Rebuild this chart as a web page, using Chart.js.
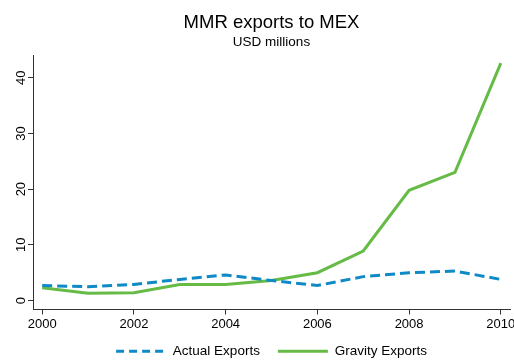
<!DOCTYPE html>
<html lang="en">
<head>
    <meta charset="UTF-8">
    <title>MMR exports to MEX</title>
    <script src="https://cdn.jsdelivr.net/npm/chart.js"></script>
    <style>
        html, body { margin: 0; padding: 0; background: #fff; }
        #wrap { position: relative; width: 514px; height: 360px; }
    </style>
</head>
<body>
    <div id="wrap"><canvas id="chart"></canvas></div>

    <script>
        const years = [2000, 2001, 2002, 2003, 2004, 2005, 2006, 2007, 2008, 2009, 2010];
        const actualExports = [2.7, 2.5, 2.9, 3.8, 4.6, 3.6, 2.7, 4.3, 5.0, 5.3, 3.8];
        const gravityExports = [2.3, 1.3, 1.4, 2.9, 2.9, 3.6, 5.0, 8.9, 19.8, 23.0, 42.6];
        const xTicks = [2000, 2002, 2004, 2006, 2008, 2010];
        const yTicks = [0, 10, 20, 30, 40];

        const font = "'Liberation Sans', Arial, sans-serif";
        const axisColor = '#333333';

        // y tick labels are drawn rotated (reading upwards), positioned by the y scale
        const rotatedYLabels = {
            id: 'rotatedYLabels',
            afterLayout(chart) {
                // x labels are clipped to the scale box; let them run into the legend band
                chart.scales.x.bottom = chart.height;
            },
            afterDraw(chart) {
                const { ctx, scales: { y } } = chart;
                ctx.save();
                ctx.fillStyle = '#000';
                ctx.font = '13px ' + font;
                ctx.textAlign = 'center';
                ctx.textBaseline = 'middle';
                yTicks.forEach(v => {
                    const py = y.getPixelForValue(v);
                    ctx.save();
                    ctx.translate(y.right - 12, py);
                    ctx.rotate(-Math.PI / 2);
                    ctx.fillText(String(v), 0, 0);
                    ctx.restore();
                });
                ctx.restore();
            }
        };

        new Chart(document.getElementById('chart'), {
            type: 'line',
            data: {
                datasets: [
                    {
                        label: 'Actual Exports',
                        data: years.map((y, i) => ({ x: y, y: actualExports[i] })),
                        borderColor: '#0f8ac6',
                        borderWidth: 3,
                        borderDash: [10, 5],
                        pointRadius: 0,
                        fill: false,
                        tension: 0
                    },
                    {
                        label: 'Gravity Exports',
                        data: years.map((y, i) => ({ x: y, y: gravityExports[i] })),
                        borderColor: '#66bb47',
                        borderWidth: 3,
                        pointRadius: 0,
                        fill: false,
                        tension: 0
                    }
                ]
            },
            options: {
                responsive: true,
                maintainAspectRatio: false,
                animation: false,
                layout: { padding: { left: 4, right: 4, top: 0, bottom: -8 } },
                scales: {
                    x: {
                        type: 'linear',
                        min: 1999.8,
                        max: 2010.2,
                        afterBuildTicks: axis => { axis.ticks = xTicks.map(v => ({ value: v })); },
                        afterFit: axis => {
                            axis.height = 17;
                            axis.paddingLeft = 0;
                            axis.paddingRight = 0;
                        },
                        grid: { display: true, drawOnChartArea: false, tickLength: 5, tickColor: axisColor },
                        border: { color: axisColor, width: 1 },
                        ticks: {
                            color: '#000',
                            font: { family: font, size: 13 },
                            padding: 2.5,
                            maxRotation: 0,
                            callback: v => String(v)
                        }
                    },
                    y: {
                        min: -1.6,
                        max: 44,
                        afterBuildTicks: axis => { axis.ticks = yTicks.map(v => ({ value: v })); },
                        afterFit: axis => { axis.width = 29; },
                        grid: { display: true, drawOnChartArea: false, tickLength: 5, tickColor: axisColor },
                        border: { color: axisColor, width: 1 },
                        ticks: { display: false }
                    }
                },
                plugins: {
                    title: {
                        display: true,
                        fullSize: false,
                        text: 'MMR exports to MEX',
                        color: '#000',
                        font: { family: font, size: 18.5, weight: 'normal' },
                        padding: { top: 12, bottom: 0 }
                    },
                    subtitle: {
                        display: true,
                        fullSize: false,
                        text: 'USD millions',
                        color: '#000',
                        font: { family: font, size: 13.5, weight: 'normal' },
                        padding: { top: 0, bottom: 5 }
                    },
                    legend: {
                        position: 'bottom',
                        fullSize: false,
                        labels: {
                            color: '#000',
                            font: { family: font, size: 13.5 },
                            usePointStyle: true,
                            pointStyle: 'line',
                            pointStyleWidth: 50,
                            boxHeight: 13,
                            padding: 18,
                            generateLabels: chart => {
                                const items = Chart.defaults.plugins.legend.labels.generateLabels(chart);
                                items.forEach(it => {
                                    const ds = chart.data.datasets[it.datasetIndex];
                                    it.lineDash = ds.borderDash ? [8, 5] : [];
                                    it.lineWidth = ds.borderWidth;
                                    it.strokeStyle = ds.borderColor;
                                });
                                return items;
                            }
                        }
                    },
                    tooltip: { enabled: false }
                }
            },
            plugins: [rotatedYLabels]
        });
    </script>
</body>
</html>
